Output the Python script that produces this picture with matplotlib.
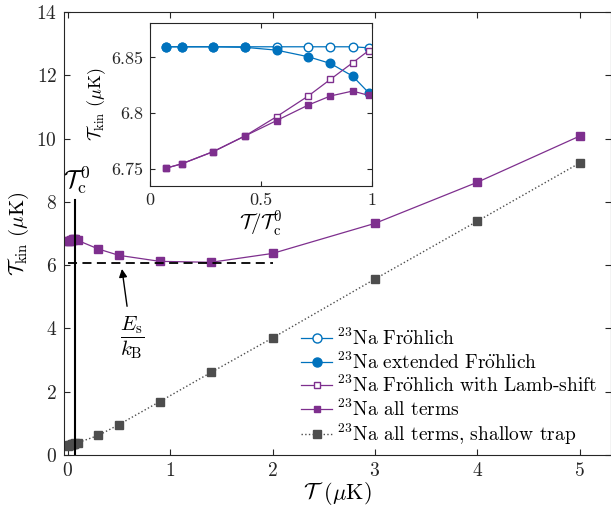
import matplotlib
matplotlib.use("Agg")
import matplotlib.pyplot as plt
import numpy as np

plt.rcParams['font.family'] = ['cmr10', 'DejaVu Serif']
plt.rcParams['mathtext.fontset'] = 'cm'
plt.rcParams['axes.formatter.use_mathtext'] = True

# ---------------- data ----------------
Tc0 = 0.07
T_small = [0.005, 0.01, 0.02, 0.03, 0.04, 0.05, 0.057, 0.064, 0.069]
ratio = [0.0714, 0.143, 0.286, 0.429, 0.571, 0.714, 0.814, 0.914, 0.986]

froh = [6.8595, 6.8595, 6.8595, 6.8595, 6.8595, 6.8595, 6.8595, 6.8595, 6.8586]
ext_froh = [6.8595, 6.8595, 6.8595, 6.8590, 6.8565, 6.8506, 6.8446, 6.8333, 6.8185]
lamb = [6.7509, 6.7548, 6.7658, 6.7798, 6.7970, 6.8155, 6.8304, 6.8452, 6.8560]
all_terms_small = [6.7509, 6.7548, 6.7658, 6.7798, 6.7935, 6.8074, 6.8155, 6.8199, 6.8161]

T_large = [0.1, 0.3, 0.5, 0.9, 1.4, 2.0, 3.0, 4.0, 5.0]
all_terms_large = [6.78, 6.51, 6.31, 6.12, 6.09, 6.37, 7.32, 8.62, 10.08]

shallow_small = [0.30, 0.31, 0.32, 0.33, 0.34, 0.35, 0.36, 0.36, 0.37]
shallow_large = [0.39, 0.62, 0.96, 1.69, 2.61, 3.70, 5.56, 7.39, 9.23]

Es_over_kB = 6.07
dash_xrange = [0.0, 2.0]

labels = [r'$^{23}\mathrm{Na\ Fr\ddot{o}hlich}$',
          r'$^{23}\mathrm{Na\ extended\ Fr\ddot{o}hlich}$',
          r'$^{23}\mathrm{Na\ Fr\ddot{o}hlich\ with}$ Lamb-shift',
          r'$^{23}$Na all terms',
          r'$^{23}$Na all terms, shallow trap']

blue = '#0072BD'
purple = '#7E2F8E'
gray = '#4D4D4D'
axc = '#262626'

T_main = T_small + T_large
y_all = all_terms_small + all_terms_large
y_shallow = shallow_small + shallow_large

fig = plt.figure(figsize=(6.11, 5.08), dpi=100)
ax = fig.add_axes([0.1047, 0.1043, 0.8945, 0.8721])

# legend proxies (main axes)
h1, = ax.plot([], [], '-o', color=blue, mfc='white', mec=blue, ms=6.5, lw=0.9)
h2, = ax.plot([], [], '-o', color=blue, mfc=blue, mec=blue, ms=6.5, lw=0.9)
h3, = ax.plot([], [], '-s', color=purple, mfc='white', mec=purple, ms=4.5, lw=0.9)
h4, = ax.plot([], [], '-s', color=purple, mfc=purple, mec=purple, ms=4.5, lw=0.9)

ax.plot(T_main, y_all, '-s', color=purple, mfc=purple, mec=purple, ms=5.8, lw=0.9)
h5, = ax.plot(T_main, y_shallow, ':s', color=gray, mfc=gray, mec=gray, ms=5.8, lw=1.0)

ax.plot(dash_xrange, [Es_over_kB, Es_over_kB], '--', color='black', lw=1.3, dashes=(5, 3))
ax.plot([Tc0, Tc0], [0, 8.05], '-', color='black', lw=1.5)
ax.text(Tc0 + 0.015, 8.15, r'$\mathcal{T}_{\rm c}^{\,0}$', fontsize=18, ha='center', va='bottom')

ax.annotate('', xy=(0.53, 5.88), xytext=(0.58, 4.7),
            arrowprops=dict(arrowstyle='-|>', color='black', lw=1.0,
                            mutation_scale=12, shrinkA=0, shrinkB=0))
ax.text(0.63, 3.7, r'$\dfrac{E_{\rm s}}{k_{\rm B}}$', fontsize=15, ha='center', va='center')

ax.set_xlim(-0.036, 5.3)
ax.set_ylim(0, 14)
ax.set_xticks([0, 1, 2, 3, 4, 5])
ax.set_yticks(np.arange(0, 15, 2))
ax.tick_params(direction='in', top=True, right=True, length=4, width=0.8,
               labelsize=14, colors=axc, labelcolor=axc, pad=5)
for s in ax.spines.values():
    s.set_color(axc)
    s.set_linewidth(0.8)
ax.set_xlabel(r'$\mathcal{T}\;\,(\mu{\rm K})$', fontsize=16, labelpad=0)
ax.set_ylabel(r'$\mathcal{T}_{\rm kin}\ (\mu{\rm K})$', fontsize=15, labelpad=4)

leg = ax.legend([h1, h2, h3, h4, h5], labels, loc='lower right',
                bbox_to_anchor=(0.99, 0.0), frameon=False, fontsize=14,
                handlelength=1.6, handletextpad=0.25, labelspacing=0.12,
                borderaxespad=0.0)

# ---------------- inset ----------------
ai = fig.add_axes([0.2455, 0.6339, 0.3628, 0.3200])
ai.plot(ratio, froh, '-o', color=blue, mfc='white', mec=blue, ms=6.2, lw=0.9)
ai.plot(ratio, ext_froh, '-o', color=blue, mfc=blue, mec=blue, ms=6.2, lw=0.9)
ai.plot(ratio, lamb, '-s', color=purple, mfc='white', mec=purple, ms=4.5, lw=0.9)
ai.plot(ratio, all_terms_small, '-s', color=purple, mfc=purple, mec=purple, ms=4.5, lw=0.9)
ai.set_xlim(0, 1)
ai.set_ylim(6.735, 6.8804)
ai.set_xticks([0, 0.5, 1])
ai.set_xticklabels(['0', '0.5', '1'])
ai.set_yticks([6.75, 6.8, 6.85])
ai.set_yticklabels(['6.75', '6.8', '6.85'])
ai.tick_params(direction='in', top=True, right=True, length=3.5, width=0.8,
               labelsize=13, colors=axc, labelcolor=axc, pad=5)
for s in ai.spines.values():
    s.set_color(axc)
    s.set_linewidth(0.8)
ai.set_xlabel(r'$\mathcal{T}/\mathcal{T}_{\rm c}^{0}$', fontsize=15, labelpad=1)
ai.set_ylabel(r'$\mathcal{T}_{\rm kin}\ (\mu{\rm K})$', fontsize=13, labelpad=2)

fig.savefig('out.png', dpi=100)
